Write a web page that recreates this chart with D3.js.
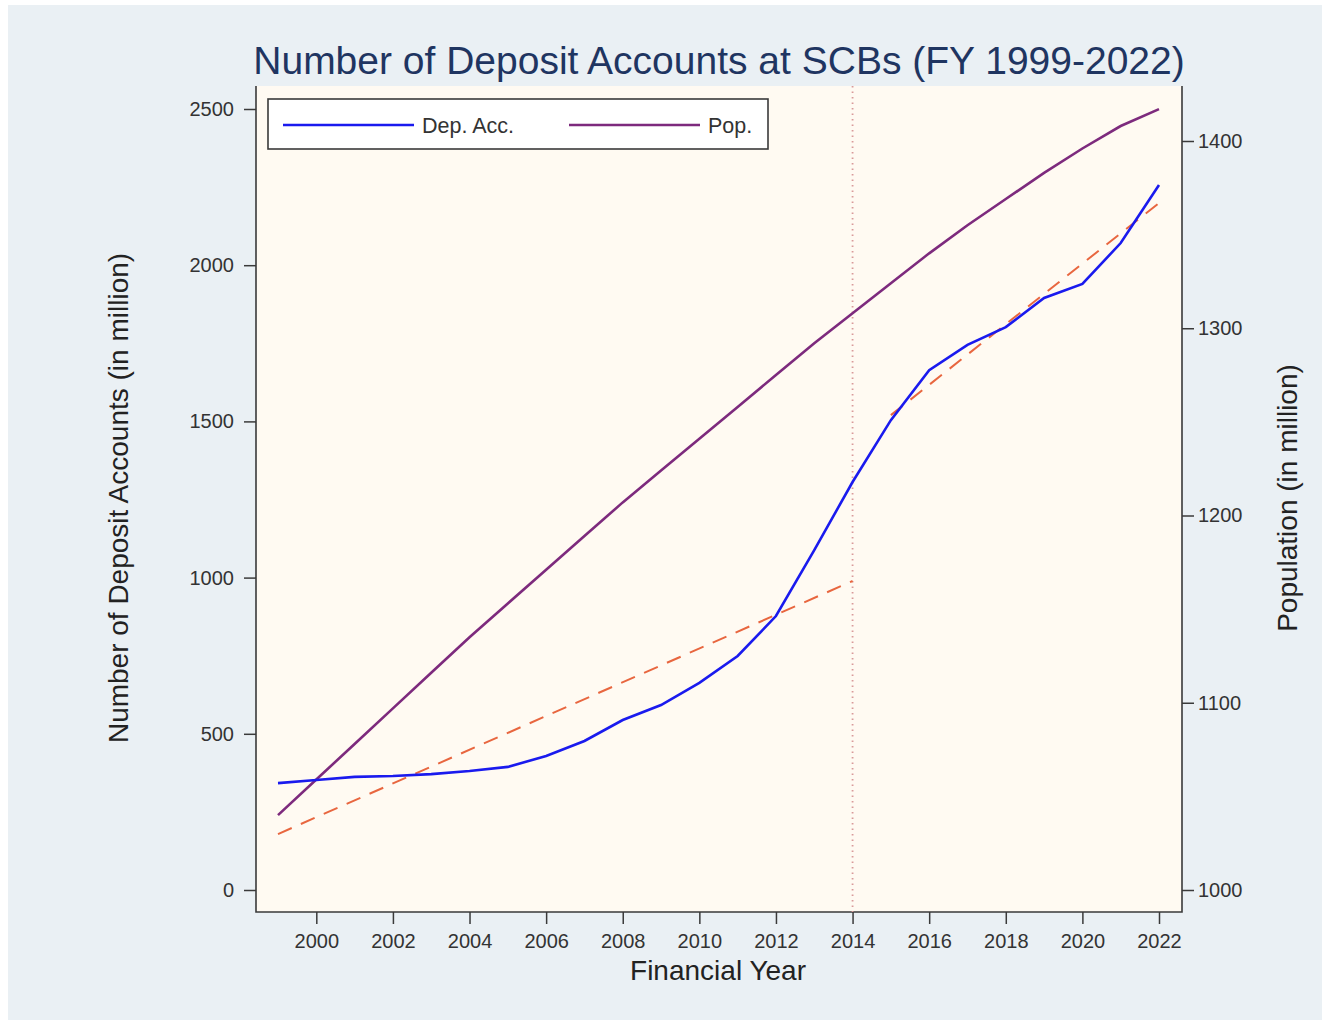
<!DOCTYPE html>
<html>
<head>
<meta charset="utf-8">
<script src="https://cdn.jsdelivr.net/npm/d3@7"></script>
<style>
  html, body { margin: 0; padding: 0; background: #ffffff; }
  svg { display: block; }
  text { font-family: "Liberation Sans", Arial, sans-serif; }
</style>
</head>
<body>
<svg id="chart" width="1330" height="1025"></svg>
<script>
// Fiscal years covered
const years = [1999, 2000, 2001, 2002, 2003, 2004, 2005, 2006, 2007, 2008, 2009, 2010,
               2011, 2012, 2013, 2014, 2015, 2016, 2017, 2018, 2019, 2020, 2021, 2022];

// Deposit accounts at scheduled commercial banks (million)
const depositAccounts = [342, 352, 362, 365, 371, 381, 394, 429, 477, 544, 592, 663,
                         749, 877, 1088, 1306, 1504, 1664, 1745, 1802, 1895, 1940, 2071, 2257];

// Population (million)
const population = [1040, 1059, 1078, 1097, 1116, 1135, 1153, 1171, 1189, 1207, 1224, 1241,
                    1258, 1275, 1292, 1308, 1324, 1340, 1355, 1369, 1383, 1396, 1408, 1417];

// Linear trend of deposit accounts, before and after FY 2014
const trendPreYears = [1999, 2014];
const trendPreValues = [179, 989];
const trendPostYears = [2015, 2022];
const trendPostValues = [1520, 2199];

const breakYear = 2014;
const xTicks = [2000, 2002, 2004, 2006, 2008, 2010, 2012, 2014, 2016, 2018, 2020, 2022];
const leftTicks = [0, 500, 1000, 1500, 2000, 2500];
const rightTicks = [1000, 1100, 1200, 1300, 1400];

const svg = d3.select("#chart");

// Frame of the plot region
const plot = { left: 256, right: 1182, top: 86, bottom: 912 };

const x = d3.scaleLinear().domain([1999, 2022]).range([278, 1159]);
const yL = d3.scaleLinear().domain([0, 2500]).range([890, 109]);
const yR = d3.scaleLinear().domain([1000, 1400]).range([890, 141]);

// Backgrounds
svg.append("rect").attr("x", 0).attr("y", 0).attr("width", 1330).attr("height", 1025).attr("fill", "#ffffff");
svg.append("rect").attr("x", 8).attr("y", 5).attr("width", 1314).attr("height", 1015).attr("fill", "#eaf0f4");
svg.append("rect")
  .attr("x", plot.left).attr("y", plot.top)
  .attr("width", plot.right - plot.left).attr("height", plot.bottom - plot.top)
  .attr("fill", "#fffaf2");

// Title
svg.append("text")
  .attr("x", 719).attr("y", 74)
  .attr("text-anchor", "middle")
  .attr("font-size", 39)
  .attr("fill", "#1f3561")
  .text("Number of Deposit Accounts at SCBs (FY 1999-2022)");

const axisColor = "#3a3a3a";
const tickTextColor = "#333333";

function styleAxis(g) {
  g.selectAll(".domain").remove();
  g.selectAll(".tick line").attr("stroke", axisColor).attr("stroke-width", 1.5);
  g.selectAll(".tick text")
    .attr("fill", tickTextColor)
    .attr("font-size", 20)
    .attr("font-family", "'Liberation Sans', Arial, sans-serif");
}

// Bottom axis
const gx = svg.append("g")
  .attr("transform", `translate(0,${plot.bottom})`)
  .call(d3.axisBottom(x).tickValues(xTicks).tickFormat(d3.format("d")).tickSize(12).tickPadding(10));
styleAxis(gx);

// Left axis
const gl = svg.append("g")
  .attr("transform", `translate(${plot.left},0)`)
  .call(d3.axisLeft(yL).tickValues(leftTicks).tickFormat(d3.format("d")).tickSize(12).tickPadding(10));
styleAxis(gl);

// Right axis
const gr = svg.append("g")
  .attr("transform", `translate(${plot.right},0)`)
  .call(d3.axisRight(yR).tickValues(rightTicks).tickFormat(d3.format("d")).tickSize(12).tickPadding(4));
styleAxis(gr);

// Axis lines
svg.append("path")
  .attr("d", `M${plot.left},${plot.top}V${plot.bottom}H${plot.right}V${plot.top}`)
  .attr("fill", "none").attr("stroke", axisColor).attr("stroke-width", 1.6);

// Axis titles
svg.append("text")
  .attr("transform", `translate(128,498) rotate(-90)`)
  .attr("text-anchor", "middle")
  .attr("font-size", 28)
  .attr("fill", "#222")
  .text("Number of Deposit Accounts (in million)");

svg.append("text")
  .attr("transform", `translate(1297,498) rotate(-90)`)
  .attr("text-anchor", "middle")
  .attr("font-size", 28)
  .attr("fill", "#222")
  .text("Population (in million)");

svg.append("text")
  .attr("x", 718).attr("y", 980)
  .attr("text-anchor", "middle")
  .attr("font-size", 28)
  .attr("fill", "#222")
  .text("Financial Year");

// Break marker at FY 2014
svg.append("line")
  .attr("x1", x(breakYear)).attr("x2", x(breakYear))
  .attr("y1", plot.top).attr("y2", plot.bottom)
  .attr("stroke", "#d99a9a").attr("stroke-width", 1.8)
  .attr("stroke-dasharray", "1.5,4");

// Trend lines
const trendLine = d3.line().x(d => x(d[0])).y(d => yL(d[1]));
[[trendPreYears, trendPreValues], [trendPostYears, trendPostValues]].forEach(([ys, vs]) => {
  svg.append("path")
    .datum(ys.map((yr, i) => [yr, vs[i]]))
    .attr("d", trendLine)
    .attr("fill", "none")
    .attr("stroke", "#e8663f")
    .attr("stroke-width", 2)
    .attr("stroke-dasharray", "15,10");
});

// Population line (right axis)
svg.append("path")
  .datum(years.map((yr, i) => [yr, population[i]]))
  .attr("d", d3.line().x(d => x(d[0])).y(d => yR(d[1])))
  .attr("fill", "none")
  .attr("stroke", "#7d2a7d")
  .attr("stroke-width", 2.6);

// Deposit accounts line (left axis)
svg.append("path")
  .datum(years.map((yr, i) => [yr, depositAccounts[i]]))
  .attr("d", d3.line().x(d => x(d[0])).y(d => yL(d[1])))
  .attr("fill", "none")
  .attr("stroke", "#1a1aee")
  .attr("stroke-width", 2.6);

// Legend
const legend = svg.append("g");
legend.append("rect")
  .attr("x", 268).attr("y", 99).attr("width", 500).attr("height", 50)
  .attr("fill", "#ffffff").attr("stroke", "#3a3a3a").attr("stroke-width", 1.6);
const legendItems = [
  { label: "Dep. Acc.", color: "#1a1aee", x0: 283 },
  { label: "Pop.", color: "#7d2a7d", x0: 569 }
];
legendItems.forEach(it => {
  legend.append("line")
    .attr("x1", it.x0).attr("x2", it.x0 + 131)
    .attr("y1", 125).attr("y2", 125)
    .attr("stroke", it.color).attr("stroke-width", 2.6);
  legend.append("text")
    .attr("x", it.x0 + 139).attr("y", 133)
    .attr("font-size", 21.5)
    .attr("fill", "#333")
    .text(it.label);
});
</script>
</body>
</html>
